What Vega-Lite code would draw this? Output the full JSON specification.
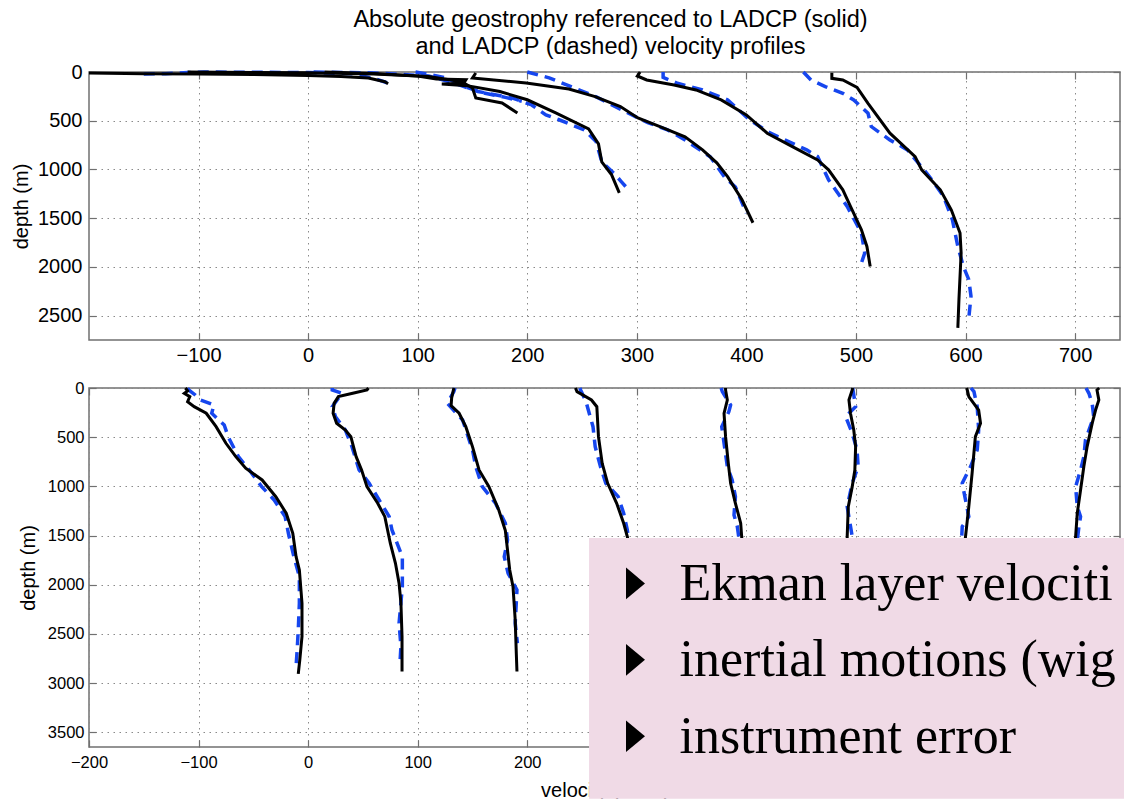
{
"$schema": "https://vega.github.io/schema/vega-lite/v6.json",
"padding": {"left": 10, "top": 6, "right": 0, "bottom": 0},
"background": "white",
"config": {
  "font": "Liberation Sans",
  "view": {"stroke": "#707070", "strokeWidth": 1.5},
  "axis": {"labelFont": "Liberation Sans", "titleFont": "Liberation Sans", "labelColor": "#000", "titleColor": "#000", "titleFontWeight": "normal", "titleFontSize": 20, "gridDash": [1.5, 4.5], "gridColor": "#8a8a8a", "gridWidth": 1, "gridOpacity": 1, "tickColor": "#707070", "tickSize": -7, "tickWidth": 1.2, "domain": false, "labelFlush": false, "labelOverlap": false, "zindex": 0, "format": "d"}
},
"spacing": 13,
"datasets": {
"top": [
{"p":"A","k":"s","i":1,"v":-200,"d":10},{"p":"A","k":"s","i":2,"v":-150,"d":18},{"p":"A","k":"s","i":3,"v":-100,"d":20},{"p":"A","k":"s","i":4,"v":-50,"d":25},{"p":"A","k":"s","i":5,"v":0,"d":35},{"p":"A","k":"s","i":6,"v":30,"d":45},{"p":"A","k":"s","i":7,"v":55,"d":62},{"p":"A","k":"s","i":8,"v":62,"d":80},{"p":"A","k":"s","i":9,"v":70,"d":100},{"p":"A","k":"s","i":10,"v":73,"d":120},
{"p":"B","k":"s","i":1,"v":-110,"d":0},{"p":"B","k":"s","i":2,"v":-50,"d":4},{"p":"B","k":"s","i":3,"v":0,"d":8},{"p":"B","k":"s","i":4,"v":60,"d":20},{"p":"B","k":"s","i":5,"v":110,"d":45},{"p":"B","k":"s","i":6,"v":140,"d":100},{"p":"B","k":"s","i":7,"v":150,"d":164},{"p":"B","k":"s","i":8,"v":153,"d":266},{"p":"B","k":"s","i":9,"v":177,"d":318},{"p":"B","k":"s","i":10,"v":191,"d":420},
{"p":"C","k":"s","i":1,"v":15,"d":0},{"p":"C","k":"s","i":2,"v":60,"d":15},{"p":"C","k":"s","i":3,"v":100,"d":40},{"p":"C","k":"s","i":4,"v":117,"d":72},{"p":"C","k":"s","i":5,"v":144,"d":80},{"p":"C","k":"s","i":6,"v":142,"d":115},{"p":"C","k":"s","i":7,"v":122,"d":123},{"p":"C","k":"s","i":8,"v":145,"d":140},{"p":"C","k":"s","i":9,"v":175,"d":200},{"p":"C","k":"s","i":10,"v":200,"d":285},{"p":"C","k":"s","i":11,"v":226,"d":420},{"p":"C","k":"s","i":12,"v":256,"d":584},{"p":"C","k":"s","i":13,"v":265,"d":738},{"p":"C","k":"s","i":14,"v":268,"d":922},{"p":"C","k":"s","i":15,"v":277,"d":1055},{"p":"C","k":"s","i":16,"v":284,"d":1240},
{"p":"D","k":"s","i":1,"v":153,"d":10},{"p":"D","k":"s","i":2,"v":150,"d":61},{"p":"D","k":"s","i":3,"v":199,"d":113},{"p":"D","k":"s","i":4,"v":238,"d":174},{"p":"D","k":"s","i":5,"v":262,"d":253},{"p":"D","k":"s","i":6,"v":285,"d":355},{"p":"D","k":"s","i":7,"v":301,"d":471},{"p":"D","k":"s","i":8,"v":324,"d":574},{"p":"D","k":"s","i":9,"v":344,"d":666},{"p":"D","k":"s","i":10,"v":360,"d":799},{"p":"D","k":"s","i":11,"v":373,"d":932},{"p":"D","k":"s","i":12,"v":383,"d":1076},{"p":"D","k":"s","i":13,"v":396,"d":1311},{"p":"D","k":"s","i":14,"v":406,"d":1547},
{"p":"E","k":"s","i":1,"v":303,"d":0},{"p":"E","k":"s","i":2,"v":300.5,"d":41},{"p":"E","k":"s","i":3,"v":309,"d":82},{"p":"E","k":"s","i":4,"v":334,"d":133},{"p":"E","k":"s","i":5,"v":354,"d":184},{"p":"E","k":"s","i":6,"v":377,"d":287},{"p":"E","k":"s","i":7,"v":400,"d":440},{"p":"E","k":"s","i":8,"v":419,"d":628},{"p":"E","k":"s","i":9,"v":442,"d":765},{"p":"E","k":"s","i":10,"v":465,"d":902},{"p":"E","k":"s","i":11,"v":475,"d":1004},{"p":"E","k":"s","i":12,"v":488,"d":1209},{"p":"E","k":"s","i":13,"v":495,"d":1380},{"p":"E","k":"s","i":14,"v":505,"d":1619},{"p":"E","k":"s","i":15,"v":510,"d":1790},{"p":"E","k":"s","i":16,"v":513,"d":1995},
{"p":"F","k":"s","i":1,"v":478,"d":7},{"p":"F","k":"s","i":2,"v":478,"d":65},{"p":"F","k":"s","i":3,"v":488,"d":82},{"p":"F","k":"s","i":4,"v":501,"d":157},{"p":"F","k":"s","i":5,"v":511,"d":321},{"p":"F","k":"s","i":6,"v":531,"d":628},{"p":"F","k":"s","i":7,"v":554,"d":868},{"p":"F","k":"s","i":8,"v":560,"d":1004},{"p":"F","k":"s","i":9,"v":577,"d":1209},{"p":"F","k":"s","i":10,"v":587,"d":1414},{"p":"F","k":"s","i":11,"v":595,"d":1653},{"p":"F","k":"s","i":12,"v":596,"d":1858},{"p":"F","k":"s","i":13,"v":594,"d":2336},{"p":"F","k":"s","i":14,"v":593,"d":2626},
{"p":"A","k":"d","i":1,"v":-150,"d":20},{"p":"A","k":"d","i":2,"v":-130,"d":18},{"p":"A","k":"d","i":3,"v":-110,"d":5},{"p":"A","k":"d","i":4,"v":-95,"d":0},{"p":"A","k":"d","i":5,"v":-50,"d":3},{"p":"A","k":"d","i":6,"v":0,"d":5},{"p":"A","k":"d","i":7,"v":40,"d":18},{"p":"A","k":"d","i":8,"v":60,"d":65},{"p":"A","k":"d","i":9,"v":72,"d":110},
{"p":"B","k":"d","i":1,"v":98,"d":0},{"p":"B","k":"d","i":2,"v":113,"d":30},{"p":"B","k":"d","i":3,"v":126,"d":60},{"p":"B","k":"d","i":4,"v":140,"d":140},{"p":"B","k":"d","i":5,"v":160,"d":215},{"p":"B","k":"d","i":6,"v":180,"d":260},{"p":"B","k":"d","i":7,"v":195,"d":300},
{"p":"C","k":"d","i":1,"v":5,"d":0},{"p":"C","k":"d","i":2,"v":60,"d":10},{"p":"C","k":"d","i":3,"v":110,"d":40},{"p":"C","k":"d","i":4,"v":135,"d":120},{"p":"C","k":"d","i":5,"v":155,"d":200},{"p":"C","k":"d","i":6,"v":186,"d":266},{"p":"C","k":"d","i":7,"v":204,"d":338},{"p":"C","k":"d","i":8,"v":217,"d":440},{"p":"C","k":"d","i":9,"v":229,"d":490},{"p":"C","k":"d","i":10,"v":252,"d":594},{"p":"C","k":"d","i":11,"v":263,"d":717},{"p":"C","k":"d","i":12,"v":268,"d":922},{"p":"C","k":"d","i":13,"v":280,"d":1050},{"p":"C","k":"d","i":14,"v":286,"d":1127},{"p":"C","k":"d","i":15,"v":291,"d":1190},
{"p":"D","k":"d","i":1,"v":200,"d":0},{"p":"D","k":"d","i":2,"v":210,"d":30},{"p":"D","k":"d","i":3,"v":220,"d":60},{"p":"D","k":"d","i":4,"v":240,"d":150},{"p":"D","k":"d","i":5,"v":263,"d":256},{"p":"D","k":"d","i":6,"v":290,"d":410},{"p":"D","k":"d","i":7,"v":310,"d":520},{"p":"D","k":"d","i":8,"v":328,"d":594},{"p":"D","k":"d","i":9,"v":344,"d":697},{"p":"D","k":"d","i":10,"v":367,"d":870},{"p":"D","k":"d","i":11,"v":380,"d":1076},{"p":"D","k":"d","i":12,"v":390,"d":1180},{"p":"D","k":"d","i":13,"v":400,"d":1447},
{"p":"E","k":"d","i":1,"v":324,"d":0},{"p":"E","k":"d","i":2,"v":324,"d":55},{"p":"E","k":"d","i":3,"v":337,"d":116},{"p":"E","k":"d","i":4,"v":360,"d":184},{"p":"E","k":"d","i":5,"v":383,"d":287},{"p":"E","k":"d","i":6,"v":403,"d":492},{"p":"E","k":"d","i":7,"v":422,"d":628},{"p":"E","k":"d","i":8,"v":455,"d":799},{"p":"E","k":"d","i":9,"v":465,"d":868},{"p":"E","k":"d","i":10,"v":475,"d":1106},{"p":"E","k":"d","i":11,"v":492,"d":1380},{"p":"E","k":"d","i":12,"v":505,"d":1653},{"p":"E","k":"d","i":13,"v":508,"d":1858},{"p":"E","k":"d","i":14,"v":505,"d":1960},
{"p":"F","k":"d","i":1,"v":452,"d":0},{"p":"F","k":"d","i":2,"v":459,"d":82},{"p":"F","k":"d","i":3,"v":472,"d":150},{"p":"F","k":"d","i":4,"v":488,"d":218},{"p":"F","k":"d","i":5,"v":498,"d":287},{"p":"F","k":"d","i":6,"v":511,"d":423},{"p":"F","k":"d","i":7,"v":514,"d":560},{"p":"F","k":"d","i":8,"v":531,"d":697},{"p":"F","k":"d","i":9,"v":547,"d":799},{"p":"F","k":"d","i":10,"v":557,"d":936},{"p":"F","k":"d","i":11,"v":567,"d":1072},{"p":"F","k":"d","i":12,"v":580,"d":1277},{"p":"F","k":"d","i":13,"v":588,"d":1516},{"p":"F","k":"d","i":14,"v":593,"d":1790},{"p":"F","k":"d","i":15,"v":598,"d":1995},{"p":"F","k":"d","i":16,"v":603,"d":2131},{"p":"F","k":"d","i":17,"v":605,"d":2302},{"p":"F","k":"d","i":18,"v":603,"d":2524}
],
"bottom": [
{"p":"1","k":"s","i":1,"v":-112,"d":0},{"p":"1","k":"s","i":2,"v":-110,"d":30},{"p":"1","k":"s","i":3,"v":-113,"d":55},{"p":"1","k":"s","i":4,"v":-108,"d":88},{"p":"1","k":"s","i":5,"v":-110,"d":139},{"p":"1","k":"s","i":6,"v":-104,"d":190},{"p":"1","k":"s","i":7,"v":-93,"d":257},{"p":"1","k":"s","i":8,"v":-84,"d":393},{"p":"1","k":"s","i":9,"v":-75,"d":562},{"p":"1","k":"s","i":10,"v":-66,"d":698},{"p":"1","k":"s","i":11,"v":-57,"d":816},{"p":"1","k":"s","i":12,"v":-42,"d":935},{"p":"1","k":"s","i":13,"v":-29.5,"d":1105},{"p":"1","k":"s","i":14,"v":-20,"d":1273},{"p":"1","k":"s","i":15,"v":-14,"d":1477},{"p":"1","k":"s","i":16,"v":-11,"d":1715},{"p":"1","k":"s","i":17,"v":-8,"d":1850},{"p":"1","k":"s","i":18,"v":-5.6,"d":2188},{"p":"1","k":"s","i":19,"v":-5.6,"d":2527},{"p":"1","k":"s","i":20,"v":-7.6,"d":2764},{"p":"1","k":"s","i":21,"v":-9,"d":2906},
{"p":"2","k":"s","i":1,"v":55,"d":0},{"p":"2","k":"s","i":2,"v":53.7,"d":20},{"p":"2","k":"s","i":3,"v":40.7,"d":54},{"p":"2","k":"s","i":4,"v":27.6,"d":88},{"p":"2","k":"s","i":5,"v":23.7,"d":156},{"p":"2","k":"s","i":6,"v":22.8,"d":257},{"p":"2","k":"s","i":7,"v":26,"d":359},{"p":"2","k":"s","i":8,"v":34,"d":427},{"p":"2","k":"s","i":9,"v":39,"d":495},{"p":"2","k":"s","i":10,"v":43.8,"d":698},{"p":"2","k":"s","i":11,"v":48.8,"d":833},{"p":"2","k":"s","i":12,"v":53.7,"d":1003},{"p":"2","k":"s","i":13,"v":63.5,"d":1172},{"p":"2","k":"s","i":14,"v":70,"d":1308},{"p":"2","k":"s","i":15,"v":75,"d":1578},{"p":"2","k":"s","i":16,"v":79.7,"d":1782},{"p":"2","k":"s","i":17,"v":83,"d":1985},{"p":"2","k":"s","i":18,"v":84.7,"d":2188},{"p":"2","k":"s","i":19,"v":85.7,"d":2527},{"p":"2","k":"s","i":20,"v":85.7,"d":2883},
{"p":"3","k":"s","i":1,"v":133,"d":0},{"p":"3","k":"s","i":2,"v":131,"d":100},{"p":"3","k":"s","i":3,"v":130.5,"d":180},{"p":"3","k":"s","i":4,"v":137.8,"d":257},{"p":"3","k":"s","i":5,"v":143.9,"d":393},{"p":"3","k":"s","i":6,"v":150,"d":596},{"p":"3","k":"s","i":7,"v":156,"d":833},{"p":"3","k":"s","i":8,"v":165,"d":1003},{"p":"3","k":"s","i":9,"v":174,"d":1240},{"p":"3","k":"s","i":10,"v":180,"d":1450},{"p":"3","k":"s","i":11,"v":184,"d":1850},{"p":"3","k":"s","i":12,"v":187,"d":2020},{"p":"3","k":"s","i":13,"v":189,"d":2358},{"p":"3","k":"s","i":14,"v":190,"d":2697},{"p":"3","k":"s","i":15,"v":190.6,"d":2883},
{"p":"4","k":"s","i":1,"v":244,"d":0},{"p":"4","k":"s","i":2,"v":245.4,"d":37},{"p":"4","k":"s","i":3,"v":258.6,"d":122},{"p":"4","k":"s","i":4,"v":263.5,"d":190},{"p":"4","k":"s","i":5,"v":265,"d":495},{"p":"4","k":"s","i":6,"v":268.4,"d":766},{"p":"4","k":"s","i":7,"v":273.4,"d":969},{"p":"4","k":"s","i":8,"v":281.6,"d":1172},{"p":"4","k":"s","i":9,"v":288,"d":1375},{"p":"4","k":"s","i":10,"v":291.3,"d":1511},{"p":"4","k":"s","i":11,"v":295,"d":1700},
{"p":"5","k":"s","i":1,"v":381,"d":0},{"p":"5","k":"s","i":2,"v":381,"d":20},{"p":"5","k":"s","i":3,"v":382.6,"d":122},{"p":"5","k":"s","i":4,"v":379.6,"d":257},{"p":"5","k":"s","i":5,"v":381,"d":495},{"p":"5","k":"s","i":6,"v":383.5,"d":766},{"p":"5","k":"s","i":7,"v":385.6,"d":969},{"p":"5","k":"s","i":8,"v":390,"d":1172},{"p":"5","k":"s","i":9,"v":394.8,"d":1375},{"p":"5","k":"s","i":10,"v":395.7,"d":1511},{"p":"5","k":"s","i":11,"v":397,"d":1700},
{"p":"6","k":"s","i":1,"v":497,"d":0},{"p":"6","k":"s","i":2,"v":496.6,"d":20},{"p":"6","k":"s","i":3,"v":493.6,"d":122},{"p":"6","k":"s","i":4,"v":495,"d":257},{"p":"6","k":"s","i":5,"v":498,"d":427},{"p":"6","k":"s","i":6,"v":499.7,"d":596},{"p":"6","k":"s","i":7,"v":499,"d":833},{"p":"6","k":"s","i":8,"v":496.6,"d":1003},{"p":"6","k":"s","i":9,"v":493,"d":1206},{"p":"6","k":"s","i":10,"v":492,"d":1511},{"p":"6","k":"s","i":11,"v":492,"d":1700},
{"p":"7","k":"s","i":1,"v":601,"d":0},{"p":"7","k":"s","i":2,"v":601.6,"d":20},{"p":"7","k":"s","i":3,"v":603,"d":88},{"p":"7","k":"s","i":4,"v":612,"d":224},{"p":"7","k":"s","i":5,"v":613.7,"d":359},{"p":"7","k":"s","i":6,"v":609,"d":495},{"p":"7","k":"s","i":7,"v":606,"d":867},{"p":"7","k":"s","i":8,"v":603,"d":1206},{"p":"7","k":"s","i":9,"v":600,"d":1511},{"p":"7","k":"s","i":10,"v":598,"d":1700},
{"p":"8","k":"s","i":1,"v":722,"d":0},{"p":"8","k":"s","i":2,"v":720,"d":20},{"p":"8","k":"s","i":3,"v":721.7,"d":122},{"p":"8","k":"s","i":4,"v":718.7,"d":224},{"p":"8","k":"s","i":5,"v":715.6,"d":359},{"p":"8","k":"s","i":6,"v":711,"d":596},{"p":"8","k":"s","i":7,"v":708,"d":799},{"p":"8","k":"s","i":8,"v":705,"d":1037},{"p":"8","k":"s","i":9,"v":702,"d":1273},{"p":"8","k":"s","i":10,"v":700.5,"d":1511},{"p":"8","k":"s","i":11,"v":699,"d":1700},
{"p":"1","k":"d","i":1,"v":-110,"d":0},{"p":"1","k":"d","i":2,"v":-109,"d":20},{"p":"1","k":"d","i":3,"v":-103,"d":71},{"p":"1","k":"d","i":4,"v":-98,"d":122},{"p":"1","k":"d","i":5,"v":-86,"d":173},{"p":"1","k":"d","i":6,"v":-88,"d":257},{"p":"1","k":"d","i":7,"v":-76.6,"d":376},{"p":"1","k":"d","i":8,"v":-73,"d":495},{"p":"1","k":"d","i":9,"v":-63.6,"d":698},{"p":"1","k":"d","i":10,"v":-53.8,"d":833},{"p":"1","k":"d","i":11,"v":-42.4,"d":1003},{"p":"1","k":"d","i":12,"v":-31,"d":1138},{"p":"1","k":"d","i":13,"v":-21,"d":1308},{"p":"1","k":"d","i":14,"v":-18,"d":1477},{"p":"1","k":"d","i":15,"v":-13,"d":1715},{"p":"1","k":"d","i":16,"v":-8,"d":1918},{"p":"1","k":"d","i":17,"v":-8,"d":2188},{"p":"1","k":"d","i":18,"v":-9,"d":2459},{"p":"1","k":"d","i":19,"v":-10,"d":2663},{"p":"1","k":"d","i":20,"v":-11,"d":2832},
{"p":"2","k":"d","i":1,"v":22,"d":0},{"p":"2","k":"d","i":2,"v":22,"d":20},{"p":"2","k":"d","i":3,"v":31,"d":54},{"p":"2","k":"d","i":4,"v":22,"d":190},{"p":"2","k":"d","i":5,"v":25,"d":292},{"p":"2","k":"d","i":6,"v":34,"d":427},{"p":"2","k":"d","i":7,"v":40,"d":596},{"p":"2","k":"d","i":8,"v":46.5,"d":833},{"p":"2","k":"d","i":9,"v":55.7,"d":969},{"p":"2","k":"d","i":10,"v":64.8,"d":1138},{"p":"2","k":"d","i":11,"v":74,"d":1308},{"p":"2","k":"d","i":12,"v":76.5,"d":1443},{"p":"2","k":"d","i":13,"v":86,"d":1715},{"p":"2","k":"d","i":14,"v":86,"d":2020},{"p":"2","k":"d","i":15,"v":83,"d":2391},{"p":"2","k":"d","i":16,"v":84.7,"d":2629},{"p":"2","k":"d","i":17,"v":83.8,"d":2798},
{"p":"3","k":"d","i":1,"v":134,"d":0},{"p":"3","k":"d","i":2,"v":133,"d":37},{"p":"3","k":"d","i":3,"v":127,"d":156},{"p":"3","k":"d","i":4,"v":141,"d":325},{"p":"3","k":"d","i":5,"v":150,"d":630},{"p":"3","k":"d","i":6,"v":153,"d":799},{"p":"3","k":"d","i":7,"v":159,"d":1003},{"p":"3","k":"d","i":8,"v":171,"d":1172},{"p":"3","k":"d","i":9,"v":180,"d":1375},{"p":"3","k":"d","i":10,"v":182,"d":1545},{"p":"3","k":"d","i":11,"v":179,"d":1715},{"p":"3","k":"d","i":12,"v":182.5,"d":1884},{"p":"3","k":"d","i":13,"v":190.6,"d":2053},{"p":"3","k":"d","i":14,"v":189,"d":2391},{"p":"3","k":"d","i":15,"v":191,"d":2595},
{"p":"4","k":"d","i":1,"v":248,"d":0},{"p":"4","k":"d","i":2,"v":248.7,"d":20},{"p":"4","k":"d","i":3,"v":253.6,"d":139},{"p":"4","k":"d","i":4,"v":260,"d":393},{"p":"4","k":"d","i":5,"v":262,"d":596},{"p":"4","k":"d","i":6,"v":266.8,"d":799},{"p":"4","k":"d","i":7,"v":271.7,"d":969},{"p":"4","k":"d","i":8,"v":283,"d":1105},{"p":"4","k":"d","i":9,"v":288,"d":1273},{"p":"4","k":"d","i":10,"v":291.3,"d":1443},{"p":"4","k":"d","i":11,"v":294,"d":1650},
{"p":"5","k":"d","i":1,"v":377,"d":0},{"p":"5","k":"d","i":2,"v":378,"d":37},{"p":"5","k":"d","i":3,"v":385.6,"d":173},{"p":"5","k":"d","i":4,"v":384,"d":241},{"p":"5","k":"d","i":5,"v":377.5,"d":393},{"p":"5","k":"d","i":6,"v":382.6,"d":799},{"p":"5","k":"d","i":7,"v":387,"d":935},{"p":"5","k":"d","i":8,"v":390,"d":1105},{"p":"5","k":"d","i":9,"v":388.7,"d":1291},{"p":"5","k":"d","i":10,"v":391.7,"d":1409},{"p":"5","k":"d","i":11,"v":393,"d":1511},{"p":"5","k":"d","i":12,"v":395,"d":1650},
{"p":"6","k":"d","i":1,"v":497,"d":0},{"p":"6","k":"d","i":2,"v":498,"d":71},{"p":"6","k":"d","i":3,"v":499.7,"d":190},{"p":"6","k":"d","i":4,"v":490.6,"d":292},{"p":"6","k":"d","i":5,"v":496.6,"d":460},{"p":"6","k":"d","i":6,"v":501,"d":630},{"p":"6","k":"d","i":7,"v":502,"d":799},{"p":"6","k":"d","i":8,"v":496.6,"d":969},{"p":"6","k":"d","i":9,"v":492,"d":1206},{"p":"6","k":"d","i":10,"v":496.6,"d":1511},{"p":"6","k":"d","i":11,"v":497,"d":1650},
{"p":"7","k":"d","i":1,"v":605,"d":0},{"p":"7","k":"d","i":2,"v":607.7,"d":37},{"p":"7","k":"d","i":3,"v":610.7,"d":190},{"p":"7","k":"d","i":4,"v":612,"d":427},{"p":"7","k":"d","i":5,"v":610.7,"d":630},{"p":"7","k":"d","i":6,"v":604.6,"d":799},{"p":"7","k":"d","i":7,"v":597,"d":969},{"p":"7","k":"d","i":8,"v":600,"d":1138},{"p":"7","k":"d","i":9,"v":603,"d":1308},{"p":"7","k":"d","i":10,"v":597,"d":1409},{"p":"7","k":"d","i":11,"v":596,"d":1650},
{"p":"8","k":"d","i":1,"v":710,"d":0},{"p":"8","k":"d","i":2,"v":712.6,"d":54},{"p":"8","k":"d","i":3,"v":715.6,"d":156},{"p":"8","k":"d","i":4,"v":717,"d":292},{"p":"8","k":"d","i":5,"v":709.5,"d":528},{"p":"8","k":"d","i":6,"v":708,"d":698},{"p":"8","k":"d","i":7,"v":705,"d":833},{"p":"8","k":"d","i":8,"v":700.5,"d":1003},{"p":"8","k":"d","i":9,"v":702,"d":1206},{"p":"8","k":"d","i":10,"v":705,"d":1308},{"p":"8","k":"d","i":11,"v":703.5,"d":1409},{"p":"8","k":"d","i":12,"v":701,"d":1650}
],
"notes": [
{"t":"Ekman layer velocities","bx":298.8,"by":1987,"tx":339,"ty":2154},
{"t":"inertial motions (wiggles)","bx":298.8,"by":2764,"tx":339,"ty":2932},
{"t":"instrument error","bx":298.8,"by":3541,"tx":339,"ty":3709},
{"t":"time variability (eddies)","bx":298.8,"by":4420,"tx":339,"ty":4590}
],
"box": [{"x1":256.4,"x2":745,"y1":1524,"y2":4177}]
},
"vconcat": [
{
  "width": 1031, "height": 268,
  "data": {"name": "top"},
  "title": {"text": ["Absolute geostrophy referenced to LADCP (solid)", "and LADCP (dashed) velocity profiles"], "fontSize": 23.5, "font": "Liberation Sans", "fontWeight": "normal", "color": "#000", "lineHeight": 27, "anchor": "middle", "frame": "group", "offset": 4, "dx": 6},
  "layer": [
    {"transform": [{"filter": "datum.k == 'd'"}],
     "mark": {"type": "line", "color": "#1646ee", "strokeWidth": 3.5, "strokeDash": [11, 7]},
     "encoding": {
       "x": {"field": "v", "type": "quantitative", "scale": {"domain": [-200, 741], "nice": false, "zero": false}, "axis": {"orient": "bottom", "title": null, "values": [-100, 0, 100, 200, 300, 400, 500, 600, 700], "labelFontSize": 20, "labelPadding": 12, "grid": true}},
       "y": {"field": "d", "type": "quantitative", "scale": {"domain": [0, 2750], "reverse": true, "nice": false, "zero": false}, "axis": {"orient": "left", "title": "depth (m)", "values": [0, 500, 1000, 1500, 2000, 2500], "labelFontSize": 20, "labelPadding": 14, "titlePadding": 6, "grid": true}},
       "detail": {"field": "p"},
       "order": {"field": "i"}
     }},
    {"transform": [{"filter": "datum.k == 's'"}],
     "mark": {"type": "line", "color": "#000000", "strokeWidth": 3},
     "encoding": {
       "x": {"field": "v", "type": "quantitative", "axis": {"orient": "top", "title": null, "labels": false, "grid": false, "values": [-100, 0, 100, 200, 300, 400, 500, 600, 700]}},
       "y": {"field": "d", "type": "quantitative", "axis": {"orient": "right", "title": null, "labels": false, "grid": false, "values": [0, 500, 1000, 1500, 2000, 2500]}},
       "detail": {"field": "p"},
       "order": {"field": "i"}
     }}
  ],
  "resolve": {"axis": {"x": "independent", "y": "independent"}}
},
{
  "width": 1031, "height": 359,
  "layer": [
    {"data": {"name": "bottom"},
     "transform": [{"filter": "datum.k == 'd'"}],
     "mark": {"type": "line", "color": "#1646ee", "strokeWidth": 3.5, "strokeDash": [11, 7]},
     "encoding": {
       "x": {"field": "v", "type": "quantitative", "scale": {"domain": [-200, 741], "nice": false, "zero": false}, "axis": {"orient": "bottom", "title": "velocity (cm/s)", "values": [-200, -100, 0, 100, 200, 300, 400, 500, 600, 700], "labelExpr": "datum.value > 250 ? '' : datum.label", "labelFontSize": 16.5, "labelPadding": 14, "titlePadding": 10, "grid": true}},
       "y": {"field": "d", "type": "quantitative", "scale": {"domain": [0, 3650], "reverse": true, "nice": false, "zero": false}, "axis": {"orient": "left", "title": "depth (m)", "values": [0, 500, 1000, 1500, 2000, 2500, 3000, 3500], "labelFontSize": 16.5, "labelPadding": 12, "titlePadding": 9, "grid": true}},
       "detail": {"field": "p"},
       "order": {"field": "i"}
     }},
    {"data": {"name": "bottom"},
     "transform": [{"filter": "datum.k == 's'"}],
     "mark": {"type": "line", "color": "#000000", "strokeWidth": 3},
     "encoding": {
       "x": {"field": "v", "type": "quantitative", "axis": {"orient": "top", "title": null, "labels": false, "grid": false, "values": [-200, -100, 0, 100, 200, 300, 400, 500, 600, 700]}},
       "y": {"field": "d", "type": "quantitative", "axis": {"orient": "right", "title": null, "labels": false, "grid": false, "values": [0, 500, 1000, 1500, 2000, 2500, 3000, 3500]}},
       "detail": {"field": "p"},
       "order": {"field": "i"}
     }},
    {"data": {"name": "box"},
     "mark": {"type": "rect", "color": "#f0dae6", "opacity": 1},
     "encoding": {
       "x": {"field": "x1", "type": "quantitative", "axis": null},
       "x2": {"field": "x2"},
       "y": {"field": "y1", "type": "quantitative", "axis": null},
       "y2": {"field": "y2"}
     }},
    {"data": {"name": "notes"},
     "mark": {"type": "point", "shape": "M-0.6,-1L0.6,0L-0.6,1Z", "filled": true, "color": "#000", "opacity": 1, "size": 1000, "strokeWidth": 0},
     "encoding": {
       "x": {"field": "bx", "type": "quantitative", "axis": null},
       "y": {"field": "by", "type": "quantitative", "axis": null}
     }},
    {"data": {"name": "notes"},
     "mark": {"type": "text", "align": "left", "baseline": "alphabetic", "font": "Liberation Serif", "fontSize": 52, "color": "#000", "limit": 446, "ellipsis": "\u200b"},
     "encoding": {
       "x": {"field": "tx", "type": "quantitative", "axis": null},
       "y": {"field": "ty", "type": "quantitative", "axis": null},
       "text": {"field": "t"}
     }}
  ],
  "resolve": {"axis": {"x": "independent", "y": "independent"}}
}
]
}
